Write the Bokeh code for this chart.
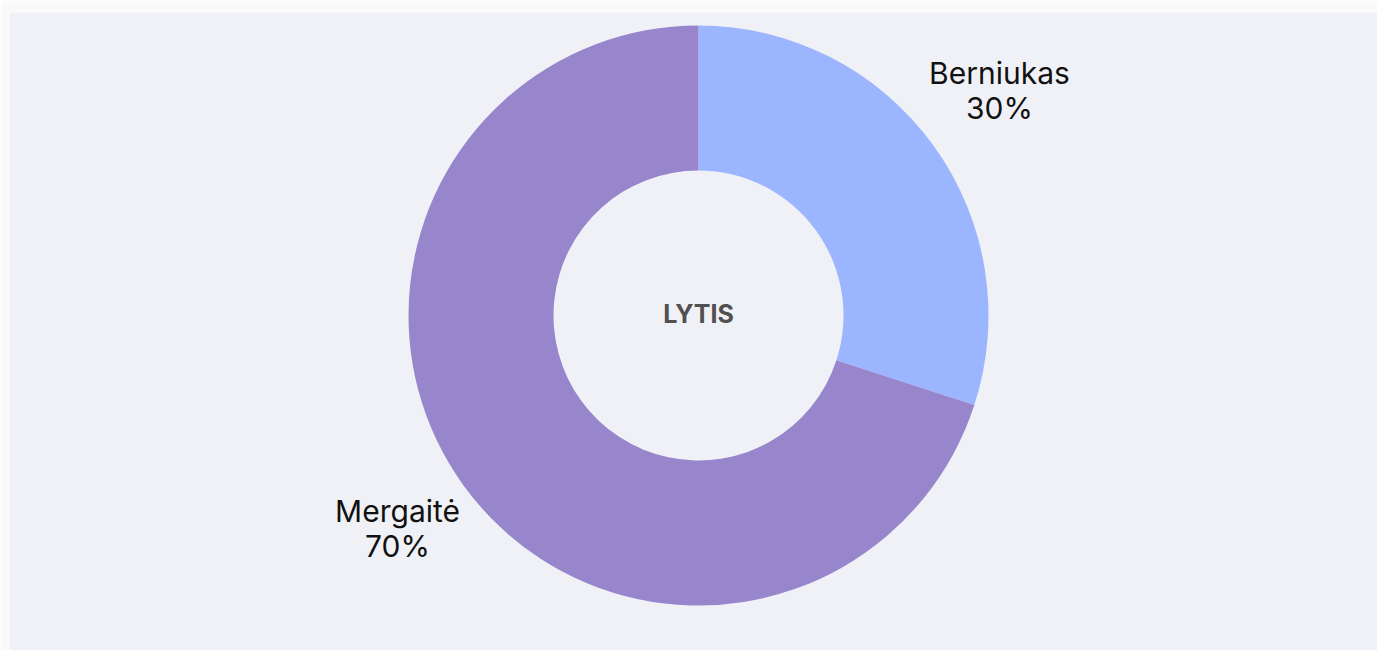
import numpy as np
from bokeh.plotting import figure
from bokeh.models import ColumnDataSource, Range1d
from bokeh.core.properties import value
from bokeh.embed import file_html
from bokeh.resources import INLINE

categories = ["Berniukas", "Mergaitė"]
shares = [30, 70]
colors = ["#9bb5ff", "#9786cb"]
center_title = "LYTIS"

FW, FH = 1368, 638
p = figure(width=1377, height=650, output_backend="svg", toolbar_location=None,
           x_range=Range1d(0, FW), y_range=Range1d(0, FH),
           x_axis_location=None, y_axis_location=None,
           min_border_left=9, min_border_top=12, min_border_right=0, min_border_bottom=0,
           background_fill_color="#f0f1f6", border_fill_color="#fafafa",
           outline_line_color=None)
p.grid.visible = False

cx, cy = 689, 335
r_out, r_in, r_lab = 290, 145, 372

fr = np.array(shares, dtype=float) / sum(shares)
ends_cum = np.cumsum(fr)
starts = np.pi / 2 - (ends_cum - fr) * 2 * np.pi
ends = np.pi / 2 - ends_cum * 2 * np.pi
mids = (starts + ends) / 2

src = ColumnDataSource(dict(
    cat=categories, start=starts, end=ends, color=colors,
    lx=cx + r_lab * np.cos(mids), ly=cy + r_lab * np.sin(mids),
    label=[f"{c}\n{v}%" for c, v in zip(categories, shares)],
))

p.annular_wedge(x=cx, y=cy, inner_radius=r_in, outer_radius=r_out,
                start_angle="start", end_angle="end", direction="clock",
                fill_color="color", line_color=None, source=src)

p.text(x="lx", y="ly", text="label", source=src, text_align="center",
       text_baseline="middle", text_font=value("Inter"), text_font_size="30px",
       text_color="#111111", text_line_height=0.97, y_offset=-6)

p.text(x=[cx], y=[cy + 2], text=[center_title], text_align="center",
       text_baseline="middle", text_font=value("Inter"), text_font_size="25px",
       text_font_style="bold", text_color="#505050")

open("out.html", "w").write(file_html(p, INLINE))
